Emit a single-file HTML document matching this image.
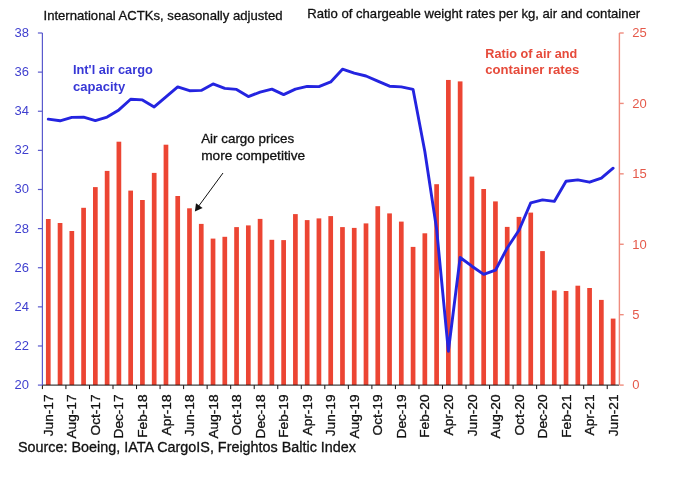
<!DOCTYPE html>
<html lang="en">
<head>
<meta charset="utf-8">
<title>Air cargo capacity and air/container rate ratio</title>
<style>
html,body{margin:0;padding:0;background:#fff;}
body{width:682px;height:482px;overflow:hidden;}
svg{display:block;font-family:"Liberation Sans",Arial,sans-serif;}
</style>
</head>
<body>
<svg width="682" height="482" viewBox="0 0 682 482">
<rect x="0" y="0" width="682" height="482" fill="#ffffff"/>

<g fill="#ec4533">
<rect x="45.93" y="219.00" width="4.7" height="166.10"/>
<rect x="57.70" y="223.00" width="4.7" height="162.10"/>
<rect x="69.47" y="231.00" width="4.7" height="154.10"/>
<rect x="81.24" y="207.80" width="4.7" height="177.30"/>
<rect x="93.00" y="187.10" width="4.7" height="198.00"/>
<rect x="104.77" y="170.90" width="4.7" height="214.20"/>
<rect x="116.54" y="141.70" width="4.7" height="243.40"/>
<rect x="128.31" y="190.60" width="4.7" height="194.50"/>
<rect x="140.07" y="200.00" width="4.7" height="185.10"/>
<rect x="151.84" y="172.90" width="4.7" height="212.20"/>
<rect x="163.61" y="144.70" width="4.7" height="240.40"/>
<rect x="175.37" y="196.00" width="4.7" height="189.10"/>
<rect x="187.14" y="208.30" width="4.7" height="176.80"/>
<rect x="198.91" y="223.90" width="4.7" height="161.20"/>
<rect x="210.68" y="238.60" width="4.7" height="146.50"/>
<rect x="222.44" y="236.80" width="4.7" height="148.30"/>
<rect x="234.21" y="227.10" width="4.7" height="158.00"/>
<rect x="245.98" y="225.40" width="4.7" height="159.70"/>
<rect x="257.75" y="218.90" width="4.7" height="166.20"/>
<rect x="269.51" y="239.80" width="4.7" height="145.30"/>
<rect x="281.28" y="240.10" width="4.7" height="145.00"/>
<rect x="293.05" y="214.10" width="4.7" height="171.00"/>
<rect x="304.82" y="220.10" width="4.7" height="165.00"/>
<rect x="316.58" y="218.40" width="4.7" height="166.70"/>
<rect x="328.35" y="216.10" width="4.7" height="169.00"/>
<rect x="340.12" y="227.10" width="4.7" height="158.00"/>
<rect x="351.88" y="227.90" width="4.7" height="157.20"/>
<rect x="363.65" y="223.40" width="4.7" height="161.70"/>
<rect x="375.42" y="206.20" width="4.7" height="178.90"/>
<rect x="387.19" y="213.40" width="4.7" height="171.70"/>
<rect x="398.95" y="221.60" width="4.7" height="163.50"/>
<rect x="410.72" y="246.90" width="4.7" height="138.20"/>
<rect x="422.49" y="233.30" width="4.7" height="151.80"/>
<rect x="434.26" y="184.20" width="4.7" height="200.90"/>
<rect x="446.02" y="79.95" width="4.7" height="305.15"/>
<rect x="457.79" y="81.40" width="4.7" height="303.70"/>
<rect x="469.56" y="176.60" width="4.7" height="208.50"/>
<rect x="481.33" y="189.00" width="4.7" height="196.10"/>
<rect x="493.09" y="201.40" width="4.7" height="183.70"/>
<rect x="504.86" y="226.90" width="4.7" height="158.20"/>
<rect x="516.63" y="216.90" width="4.7" height="168.20"/>
<rect x="528.39" y="212.60" width="4.7" height="172.50"/>
<rect x="540.16" y="251.10" width="4.7" height="134.00"/>
<rect x="551.93" y="290.50" width="4.7" height="94.60"/>
<rect x="563.70" y="291.00" width="4.7" height="94.10"/>
<rect x="575.46" y="285.70" width="4.7" height="99.40"/>
<rect x="587.23" y="288.00" width="4.7" height="97.10"/>
<rect x="599.00" y="299.90" width="4.7" height="85.20"/>
<rect x="610.77" y="318.60" width="4.7" height="66.50"/>
</g>
<g stroke="#111" stroke-width="1" fill="none">
<line x1="42.4" y1="385.1" x2="619.0" y2="385.1"/>
<line x1="42.40" y1="385.1" x2="42.40" y2="389.1"/>
<line x1="65.93" y1="385.1" x2="65.93" y2="389.1"/>
<line x1="89.47" y1="385.1" x2="89.47" y2="389.1"/>
<line x1="113.00" y1="385.1" x2="113.00" y2="389.1"/>
<line x1="136.54" y1="385.1" x2="136.54" y2="389.1"/>
<line x1="160.07" y1="385.1" x2="160.07" y2="389.1"/>
<line x1="183.61" y1="385.1" x2="183.61" y2="389.1"/>
<line x1="207.14" y1="385.1" x2="207.14" y2="389.1"/>
<line x1="230.68" y1="385.1" x2="230.68" y2="389.1"/>
<line x1="254.21" y1="385.1" x2="254.21" y2="389.1"/>
<line x1="277.75" y1="385.1" x2="277.75" y2="389.1"/>
<line x1="301.28" y1="385.1" x2="301.28" y2="389.1"/>
<line x1="324.82" y1="385.1" x2="324.82" y2="389.1"/>
<line x1="348.35" y1="385.1" x2="348.35" y2="389.1"/>
<line x1="371.89" y1="385.1" x2="371.89" y2="389.1"/>
<line x1="395.42" y1="385.1" x2="395.42" y2="389.1"/>
<line x1="418.96" y1="385.1" x2="418.96" y2="389.1"/>
<line x1="442.49" y1="385.1" x2="442.49" y2="389.1"/>
<line x1="466.02" y1="385.1" x2="466.02" y2="389.1"/>
<line x1="489.56" y1="385.1" x2="489.56" y2="389.1"/>
<line x1="513.09" y1="385.1" x2="513.09" y2="389.1"/>
<line x1="536.63" y1="385.1" x2="536.63" y2="389.1"/>
<line x1="560.16" y1="385.1" x2="560.16" y2="389.1"/>
<line x1="583.70" y1="385.1" x2="583.70" y2="389.1"/>
<line x1="607.23" y1="385.1" x2="607.23" y2="389.1"/>
</g>
<g stroke="#5a5acd" stroke-width="1.2" fill="none">
<line x1="42.4" y1="33.0" x2="42.4" y2="385.1"/>
<line x1="37.9" y1="33.00" x2="42.4" y2="33.00"/>
<line x1="37.9" y1="72.12" x2="42.4" y2="72.12"/>
<line x1="37.9" y1="111.24" x2="42.4" y2="111.24"/>
<line x1="37.9" y1="150.37" x2="42.4" y2="150.37"/>
<line x1="37.9" y1="189.49" x2="42.4" y2="189.49"/>
<line x1="37.9" y1="228.61" x2="42.4" y2="228.61"/>
<line x1="37.9" y1="267.73" x2="42.4" y2="267.73"/>
<line x1="37.9" y1="306.86" x2="42.4" y2="306.86"/>
<line x1="37.9" y1="345.98" x2="42.4" y2="345.98"/>
<line x1="37.9" y1="385.10" x2="42.4" y2="385.10"/>
</g>
<g stroke="#ef8c7e" stroke-width="1.4" fill="none">
<line x1="619.4" y1="33.0" x2="619.4" y2="385.1"/>
<line x1="619.4" y1="33.00" x2="623.6999999999999" y2="33.00"/>
<line x1="619.4" y1="103.42" x2="623.6999999999999" y2="103.42"/>
<line x1="619.4" y1="173.84" x2="623.6999999999999" y2="173.84"/>
<line x1="619.4" y1="244.26" x2="623.6999999999999" y2="244.26"/>
<line x1="619.4" y1="314.68" x2="623.6999999999999" y2="314.68"/>
<line x1="619.4" y1="385.10" x2="623.6999999999999" y2="385.10"/>
</g>
<polyline points="48.28,119.10 60.05,120.80 71.82,117.40 83.59,117.10 95.35,120.60 107.12,117.10 118.89,109.90 130.66,99.20 142.42,99.90 154.19,106.90 165.96,96.90 177.72,86.90 189.49,90.70 201.26,90.40 213.03,83.90 224.79,88.40 236.56,89.40 248.33,96.60 260.10,92.10 271.86,89.10 283.63,94.60 295.40,89.10 307.17,86.40 318.93,86.60 330.70,81.90 342.47,69.20 354.23,73.10 366.00,76.00 377.77,81.20 389.54,86.20 401.30,86.90 413.07,89.40 424.84,151.50 436.61,229.00 448.37,351.20 460.14,257.50 471.91,266.20 483.68,274.40 495.44,270.20 507.21,248.00 518.98,230.30 530.74,202.90 542.51,199.90 554.28,201.40 566.05,181.20 577.81,179.90 589.58,182.20 601.35,178.20 613.12,168.20" fill="none" stroke="#2424e0" stroke-width="2.9" stroke-linejoin="round" stroke-linecap="round"/>
<g fill="#3f3fcf" font-size="13" text-anchor="end">
<text x="28.9" y="36.90">38</text>
<text x="28.9" y="76.02">36</text>
<text x="28.9" y="115.14">34</text>
<text x="28.9" y="154.27">32</text>
<text x="28.9" y="193.39">30</text>
<text x="28.9" y="232.51">28</text>
<text x="28.9" y="271.63">26</text>
<text x="28.9" y="310.76">24</text>
<text x="28.9" y="349.88">22</text>
<text x="28.9" y="389.00">20</text>
</g>
<g fill="#e5594a" font-size="13" text-anchor="start">
<text x="632.3" y="37.30">25</text>
<text x="632.3" y="107.72">20</text>
<text x="632.3" y="178.14">15</text>
<text x="632.3" y="248.56">10</text>
<text x="632.3" y="318.98">5</text>
<text x="632.3" y="389.40">0</text>
</g>
<g fill="#111111" stroke="#111111" stroke-width="0.3" font-size="13" text-anchor="end">
<text transform="translate(52.88,394.5) rotate(-90) scale(1.05,1)">Jun-17</text>
<text transform="translate(76.42,394.5) rotate(-90) scale(1.05,1)">Aug-17</text>
<text transform="translate(99.95,394.5) rotate(-90) scale(1.05,1)">Oct-17</text>
<text transform="translate(123.49,394.5) rotate(-90) scale(1.05,1)">Dec-17</text>
<text transform="translate(147.02,394.5) rotate(-90) scale(1.05,1)">Feb-18</text>
<text transform="translate(170.56,394.5) rotate(-90) scale(1.05,1)">Apr-18</text>
<text transform="translate(194.09,394.5) rotate(-90) scale(1.05,1)">Jun-18</text>
<text transform="translate(217.63,394.5) rotate(-90) scale(1.05,1)">Aug-18</text>
<text transform="translate(241.16,394.5) rotate(-90) scale(1.05,1)">Oct-18</text>
<text transform="translate(264.70,394.5) rotate(-90) scale(1.05,1)">Dec-18</text>
<text transform="translate(288.23,394.5) rotate(-90) scale(1.05,1)">Feb-19</text>
<text transform="translate(311.77,394.5) rotate(-90) scale(1.05,1)">Apr-19</text>
<text transform="translate(335.30,394.5) rotate(-90) scale(1.05,1)">Jun-19</text>
<text transform="translate(358.83,394.5) rotate(-90) scale(1.05,1)">Aug-19</text>
<text transform="translate(382.37,394.5) rotate(-90) scale(1.05,1)">Oct-19</text>
<text transform="translate(405.90,394.5) rotate(-90) scale(1.05,1)">Dec-19</text>
<text transform="translate(429.44,394.5) rotate(-90) scale(1.05,1)">Feb-20</text>
<text transform="translate(452.97,394.5) rotate(-90) scale(1.05,1)">Apr-20</text>
<text transform="translate(476.51,394.5) rotate(-90) scale(1.05,1)">Jun-20</text>
<text transform="translate(500.04,394.5) rotate(-90) scale(1.05,1)">Aug-20</text>
<text transform="translate(523.58,394.5) rotate(-90) scale(1.05,1)">Oct-20</text>
<text transform="translate(547.11,394.5) rotate(-90) scale(1.05,1)">Dec-20</text>
<text transform="translate(570.65,394.5) rotate(-90) scale(1.05,1)">Feb-21</text>
<text transform="translate(594.18,394.5) rotate(-90) scale(1.05,1)">Apr-21</text>
<text transform="translate(617.72,394.5) rotate(-90) scale(1.05,1)">Jun-21</text>
</g>
<text x="43.5" y="20" font-size="13" fill="#111111" stroke="#111111" stroke-width="0.3" textLength="239" lengthAdjust="spacingAndGlyphs">International ACTKs, seasonally adjusted</text>
<text x="307.2" y="18" font-size="13" fill="#111111" stroke="#111111" stroke-width="0.3" textLength="333" lengthAdjust="spacingAndGlyphs">Ratio of chargeable weight rates per kg, air and container</text>
<g fill="#3737d6" font-size="13.5" font-weight="bold"><text x="73" y="73.6" textLength="79.8" lengthAdjust="spacingAndGlyphs">Int'l air cargo</text><text x="73" y="91.1" textLength="52.2" lengthAdjust="spacingAndGlyphs">capacity</text></g>
<g fill="#e64a3a" font-size="13.5" font-weight="bold"><text x="485.3" y="58.1" textLength="92" lengthAdjust="spacingAndGlyphs">Ratio of air and</text><text x="485.3" y="74" textLength="94" lengthAdjust="spacingAndGlyphs">container rates</text></g>
<g fill="#111111" stroke="#111111" stroke-width="0.3" font-size="13"><text x="201.2" y="143.0" textLength="93" lengthAdjust="spacingAndGlyphs">Air cargo prices</text><text x="201.2" y="159.8" textLength="104" lengthAdjust="spacingAndGlyphs">more competitive</text></g>
<line x1="223" y1="173" x2="198" y2="207" stroke="#111" stroke-width="1"/>
<polygon points="194.9,211.4 196.0,203.3 202.6,208.1" fill="#111"/>
<text x="18" y="451.7" font-size="14" fill="#111111" stroke="#111111" stroke-width="0.3" textLength="338" lengthAdjust="spacingAndGlyphs">Source: Boeing, IATA CargoIS, Freightos Baltic Index</text>
</svg>
</body>
</html>
